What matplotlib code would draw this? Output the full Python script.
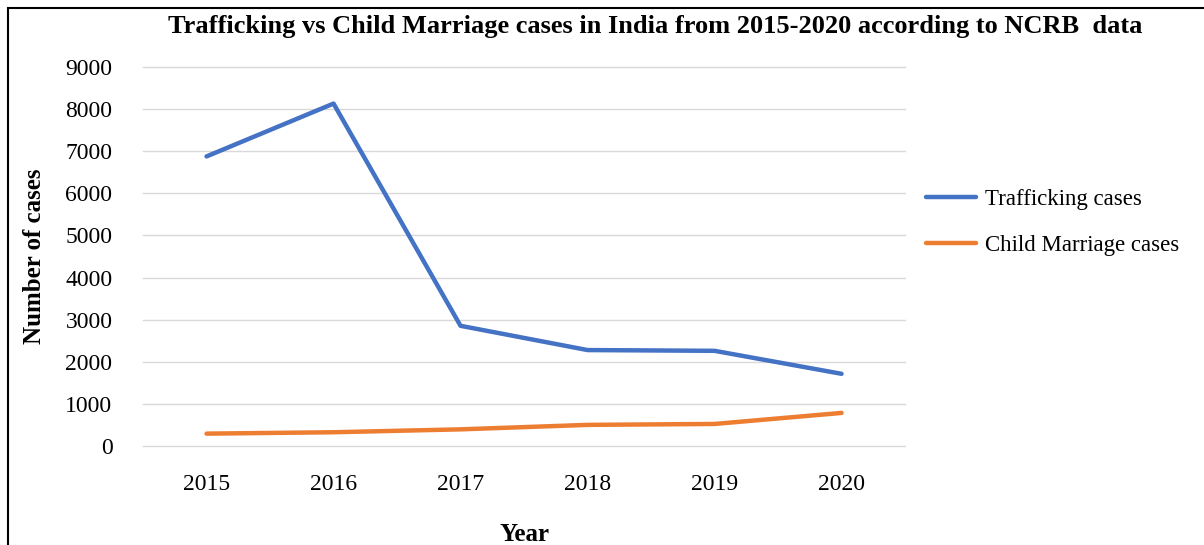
# Trafficking vs Child Marriage cases in India, NCRB data 2015-2020

import matplotlib.pyplot as plt
from matplotlib.patches import Rectangle

years = ["2015", "2016", "2017", "2018", "2019", "2020"]
trafficking = [6877, 8132, 2854, 2278, 2260, 1714]
child_marriage = [293, 326, 395, 501, 523, 785]
y_ticks = [0, 1000, 2000, 3000, 4000, 5000, 6000, 7000, 8000, 9000]

plt.rcParams['font.family'] = ['Liberation Serif', 'DejaVu Serif']

fig = plt.figure(figsize=(12.04, 5.45), dpi=100)
ax = fig.add_axes([0.1188, 0.1817, 0.6329, 0.6953])

x = range(len(years))
ax.plot(x, trafficking, color="#4472C4", lw=3.2, label="Trafficking cases", solid_capstyle="round")
ax.plot(x, child_marriage, color="#ED7D31", lw=3.2, label="Child Marriage cases", solid_capstyle="round")

ax.set_xlim(-0.5, 5.5)
ax.set_ylim(0, 9000)
ax.set_xticks(list(x))
ax.set_xticklabels(years, fontsize=17)
ax.set_yticks(y_ticks)
ax.set_yticklabels([str(v) for v in y_ticks], fontsize=17)
ax.tick_params(length=0)
ax.tick_params(axis="x", pad=20)
ax.tick_params(axis="y", pad=22)
ax.grid(axis="y", color="#D9D9D9", lw=1)
for gl in ax.get_ygridlines():
    gl.set_clip_on(False)
ax.set_axisbelow(True)
for s in ax.spines.values():
    s.set_visible(False)

ax.set_xlabel("Year", fontsize=18, fontweight="bold", labelpad=20)
ax.set_ylabel("Number of cases", fontsize=18, fontweight="bold", labelpad=14)

fig.text(0.544, 0.952, "Trafficking vs Child Marriage cases in India from 2015-2020 according to NCRB  data",
         ha="center", va="center", fontsize=19, fontweight="bold")

ax.legend(loc="center left", bbox_to_anchor=(1.0, 0.59), frameon=False, fontsize=16.5,
          handlelength=2.2, handletextpad=0.4, labelspacing=1.1)

# outer frame of the chart
fig.patches.append(Rectangle((8 / 1204, -0.1), 1.2, 1 - 8 / 545 + 0.1,
                             transform=fig.transFigure, fill=False,
                             edgecolor="black", lw=1.5))

fig.savefig("out.png", dpi=100)
